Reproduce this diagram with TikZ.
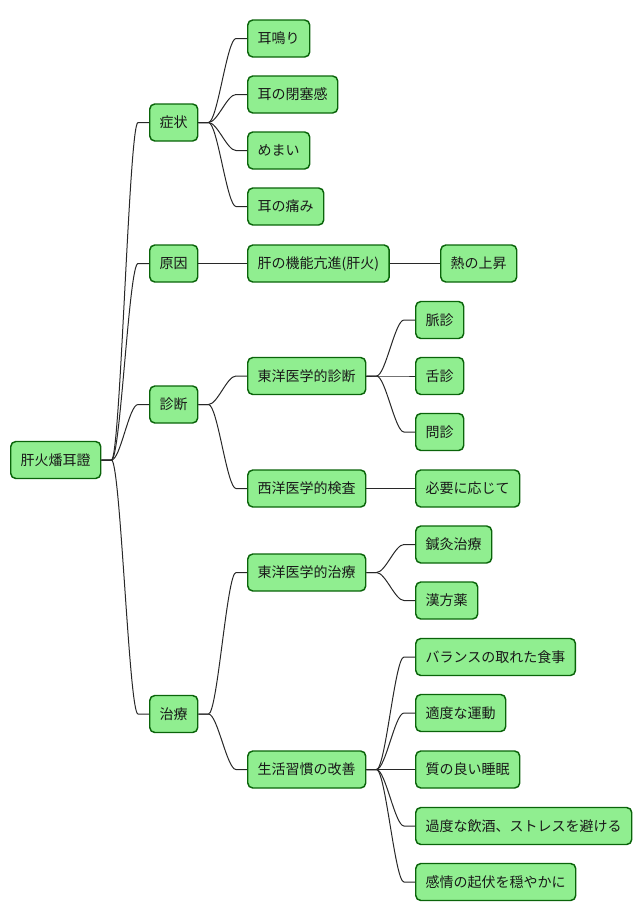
\documentclass[tikz,border=0pt]{standalone}
\usepackage{fontspec}
\newfontfamily\cjk{Noto Sans CJK JP}
\usetikzlibrary{calc}
\definecolor{nodefill}{RGB}{144,238,144}
\definecolor{nodedraw}{RGB}{10,100,10}
\definecolor{edgecol}{RGB}{40,40,40}
\tikzset{
  mm/.style={draw=nodedraw, fill=nodefill, line width=1.1pt, rounded corners=3.8pt,
    minimum height=27.75pt, inner xsep=7.5pt, inner ysep=0pt, anchor=west,
    font=\cjk\fontsize{10.5pt}{12pt}\selectfont, text=black!90},
  edgeline/.style={draw=edgecol, line width=0.75pt}
}
\newcommand\mmedge[2]{\draw[edgeline] (#1.east) -- ++(10,0) .. controls +(9,0) and ($(#2.west)+(-20,0)$) .. ($(#2.west)+(-11,0)$) -- (#2.west);}
\begin{document}
\begin{tikzpicture}[x=0.75pt,y=-0.75pt]
\useasboundingbox (0,0) rectangle (642,921);
\node[mm] (root) at (10,460) {肝火燔耳證};
\node[mm] (a) at (149,122.5) {症状};
\node[mm] (b) at (149,263.5) {原因};
\node[mm] (c) at (149,404.5) {診断};
\node[mm] (d) at (149,714) {治療};
\node[mm] (a1) at (247,38.5) {耳鳴り};
\node[mm] (a2) at (247,94.5) {耳の閉塞感};
\node[mm] (a3) at (247,150.5) {めまい};
\node[mm] (a4) at (247,206.5) {耳の痛み};
\node[mm] (b1) at (247,263.5) {肝の機能亢進(肝火)};
\node[mm] (b11) at (440,263.5) {熱の上昇};
\node[mm] (c1) at (247,376) {東洋医学的診断};
\node[mm] (c11) at (415,320) {脈診};
\node[mm] (c12) at (415,376) {舌診};
\node[mm] (c13) at (415,432) {問診};
\node[mm] (c2) at (247,488.5) {西洋医学的検査};
\node[mm] (c21) at (415,488.5) {必要に応じて};
\node[mm] (d1) at (247,572.5) {東洋医学的治療};
\node[mm] (d11) at (415,544.5) {鍼灸治療};
\node[mm] (d12) at (415,600.5) {漢方薬};
\node[mm] (d2) at (247,769.5) {生活習慣の改善};
\node[mm] (d21) at (415,657) {バランスの取れた食事};
\node[mm] (d22) at (415,713) {適度な運動};
\node[mm] (d23) at (415,769.5) {質の良い睡眠};
\node[mm] (d24) at (415,826) {過度な飲酒、ストレスを避ける};
\node[mm] (d25) at (415,882) {感情の起伏を穏やかに};
\mmedge{root}{a}
\mmedge{root}{b}
\mmedge{root}{c}
\mmedge{root}{d}
\mmedge{a}{a1}
\mmedge{a}{a2}
\mmedge{a}{a3}
\mmedge{a}{a4}
\mmedge{b}{b1}
\mmedge{b1}{b11}
\mmedge{c}{c1}
\mmedge{c}{c2}
\mmedge{c1}{c11}
\mmedge{c1}{c12}
\mmedge{c1}{c13}
\mmedge{c2}{c21}
\mmedge{d}{d1}
\mmedge{d}{d2}
\mmedge{d1}{d11}
\mmedge{d1}{d12}
\mmedge{d2}{d21}
\mmedge{d2}{d22}
\mmedge{d2}{d23}
\mmedge{d2}{d24}
\mmedge{d2}{d25}
\end{tikzpicture}
\end{document}
